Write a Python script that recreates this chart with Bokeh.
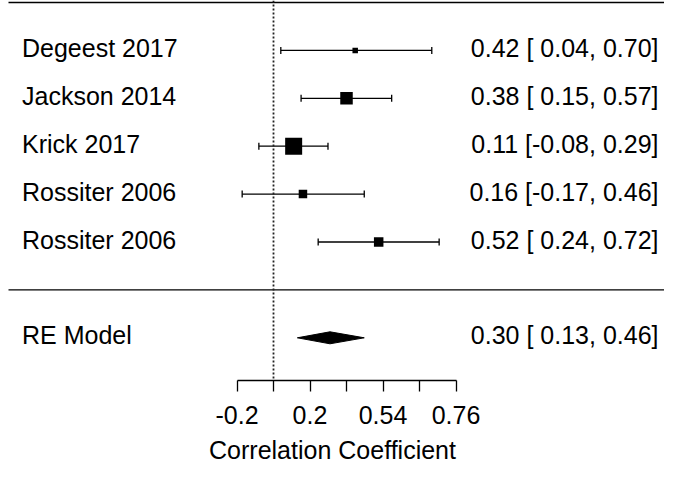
import numpy as np
from bokeh.plotting import figure
from bokeh.models import (ColumnDataSource, Range1d, Span, FixedTicker, Whisker, TeeHead)
from bokeh.core.properties import value
from bokeh.embed import file_html
from bokeh.resources import INLINE

# ---------------- data ----------------
studies = ["Degeest 2017", "Jackson 2014", "Krick 2017", "Rossiter 2006", "Rossiter 2006"]
est_r = [0.42, 0.38, 0.11, 0.16, 0.52]
lo_r = [0.04, 0.15, -0.08, -0.17, 0.24]
hi_r = [0.70, 0.57, 0.29, 0.46, 0.72]
box_px = [5.5, 12.5, 17, 8.5, 9.5]   # marker size (study weight)
rows = [5, 4, 3, 2, 1]

re_label = "RE Model"
re_est, re_lo, re_hi = 0.30, 0.13, 0.46
re_row = -1

tick_z = [-0.2, 0.0, 0.2, 0.4, 0.6, 0.8, 1.0]
tick_labels = ["-0.2", "", "0.2", "", "0.54", "", "0.76"]
x_title = "Correlation Coefficient"

# ---------------- layout ----------------
FONT = "Liberation Sans"
FS = "25px"
W, FH = 664, 380
ZERO_PX, PX_PER_Z = 273.0, 182.5
ROW_PX = 47.9
TOP_ROW = 6
TOP_PX = 2.0
TXT_DY = -2.4

def px_to_z(px):
    return (px - ZERO_PX) / PX_PER_Z

x0, x1 = px_to_z(0), px_to_z(W)
y_top = TOP_ROW + TOP_PX / ROW_PX
y_bot = TOP_ROW - (FH - TOP_PX) / ROW_PX

p = figure(frame_width=W, frame_height=FH, output_backend="svg", toolbar_location=None,
           x_range=Range1d(x0, x1), y_range=Range1d(y_bot, y_top),
           y_axis_location=None, min_border_left=0, min_border_right=0,
           min_border_top=0, min_border_bottom=0)
p.outline_line_color = None
p.grid.visible = False
p.background_fill_color = "white"
p.border_fill_color = "white"

z_est = np.arctanh(est_r)
z_lo = np.arctanh(lo_r)
z_hi = np.arctanh(hi_r)

def fmt(e, l, h):
    return f"{e:.2f} [{l:5.2f}, {h:.2f}]"

src = ColumnDataSource(dict(row=rows, est=z_est, lo=z_lo, hi=z_hi, size=box_px,
                            name=studies,
                            ci=[fmt(e, l, h) for e, l, h in zip(est_r, lo_r, hi_r)]))

# horizontal rules
p.segment(x0=[px_to_z(8)] * 2, x1=[px_to_z(674)] * 2, y0=[TOP_ROW, 0], y1=[TOP_ROW, 0],
          line_color="black", line_width=1.4)
# reference line at zero
p.add_layout(Span(location=0, dimension="height", line_color="#222222", line_width=1.8,
                  line_dash="2 2"))

# CIs
wh = Whisker(source=src, base="row", lower="lo", upper="hi", dimension="width",
             line_color="black", line_width=1.3,
             lower_head=TeeHead(size=7, line_color="black", line_width=1.3),
             upper_head=TeeHead(size=7, line_color="black", line_width=1.3))
p.add_layout(wh)
p.scatter(x="est", y="row", size="size", marker="square", source=src,
          fill_color="black", line_color="black", line_width=0)

# RE diamond
h = 6.0 / ROW_PX
zr = np.arctanh([re_lo, re_est, re_hi])
p.patch(x=[zr[0], zr[1], zr[2], zr[1]], y=[re_row, re_row + h, re_row, re_row - h],
        fill_color="black", line_color="black", line_width=1)

# texts
lx = px_to_z(21.5)
rx = px_to_z(658)
p.text(x=lx, y="row", text="name", source=src, text_font=value(FONT), text_font_size=FS,
       text_align="left", text_baseline="alphabetic", y_offset=TXT_DY, text_color="black")
p.text(x=rx, y="row", text="ci", source=src, text_font=value(FONT), text_font_size=FS,
       text_align="right", text_baseline="alphabetic", y_offset=TXT_DY, text_color="black")
p.text(x=[lx], y=[re_row], text=[re_label], text_font=value(FONT), text_font_size=FS,
       text_align="left", text_baseline="alphabetic", y_offset=TXT_DY, text_color="black")
p.text(x=[rx], y=[re_row], text=[fmt(re_est, re_lo, re_hi)], text_font=value(FONT),
       text_font_size=FS, text_align="right", text_baseline="alphabetic", y_offset=TXT_DY,
       text_color="black")

# axis
ax = p.xaxis[0]
ax.ticker = FixedTicker(ticks=tick_z)
ax.major_label_overrides = {t: l for t, l in zip(tick_z, tick_labels)}
ax.bounds = (tick_z[0], tick_z[-1])
ax.axis_line_color = "black"
ax.axis_line_width = 1.3
ax.major_tick_line_color = "black"
ax.major_tick_line_width = 1.3
ax.major_tick_in = 0
ax.major_tick_out = 11
ax.minor_tick_line_color = None
ax.major_label_text_font = FONT
ax.major_label_text_font_size = FS
ax.major_label_text_color = "black"
ax.major_label_standoff = 14
ax.axis_label = x_title
ax.axis_label_text_font = FONT
ax.axis_label_text_font_size = FS
ax.axis_label_text_font_style = "normal"
ax.axis_label_text_color = "black"
ax.axis_label_standoff = 9

open("out.html", "w").write(file_html(p, INLINE))
